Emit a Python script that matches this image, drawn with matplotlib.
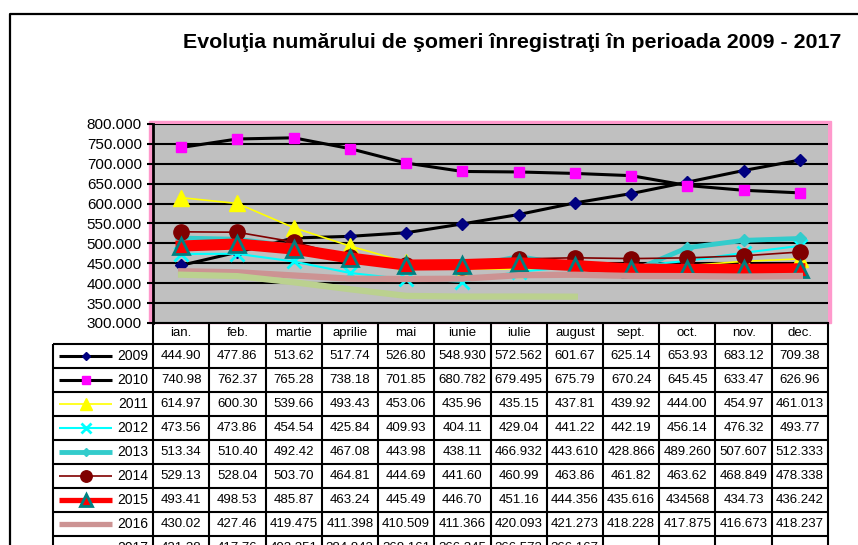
import numpy as np
import matplotlib.pyplot as plt
from matplotlib.lines import Line2D
from matplotlib.patches import Rectangle

plt.rcParams['font.family'] = ['Liberation Sans', 'DejaVu Sans']

titlu = 'Evoluţia numărului de şomeri înregistraţi în perioada 2009 - 2017'
luni = ['ian.', 'feb.', 'martie', 'aprilie', 'mai', 'iunie', 'iulie',
        'august', 'sept.', 'oct.', 'nov.', 'dec.']
ani = ['2009', '2010', '2011', '2012', '2013', '2014', '2015', '2016', '2017']

# valori asa cum apar in tabel (mii persoane)
s2009 = ['444.90', '477.86', '513.62', '517.74', '526.80', '548.930', '572.562', '601.67', '625.14', '653.93', '683.12', '709.38']
s2010 = ['740.98', '762.37', '765.28', '738.18', '701.85', '680.782', '679.495', '675.79', '670.24', '645.45', '633.47', '626.96']
s2011 = ['614.97', '600.30', '539.66', '493.43', '453.06', '435.96', '435.15', '437.81', '439.92', '444.00', '454.97', '461.013']
s2012 = ['473.56', '473.86', '454.54', '425.84', '409.93', '404.11', '429.04', '441.22', '442.19', '456.14', '476.32', '493.77']
s2013 = ['513.34', '510.40', '492.42', '467.08', '443.98', '438.11', '466.932', '443.610', '428.866', '489.260', '507.607', '512.333']
s2014 = ['529.13', '528.04', '503.70', '464.81', '444.69', '441.60', '460.99', '463.86', '461.82', '463.62', '468.849', '478.338']
s2015 = ['493.41', '498.53', '485.87', '463.24', '445.49', '446.70', '451.16', '444.356', '435.616', '434568', '434.73', '436.242']
s2016 = ['430.02', '427.46', '419.475', '411.398', '410.509', '411.366', '420.093', '421.273', '418.228', '417.875', '416.673', '418.237']
s2017 = ['421.38', '417.76', '402.351', '384.843', '368.161', '366.345', '366.573', '366.167']

serii = [s2009, s2010, s2011, s2012, s2013, s2014, s2015, s2016, s2017]

stiluri = [
    dict(color='black', lw=2.2, marker='D', ms=6, mfc='#000080', mec='#000080'),
    dict(color='black', lw=2.2, marker='s', ms=7.5, mfc='#FF00FF', mec='#FF00FF'),
    dict(color='#FFFF00', lw=1.2, marker='^', ms=12, mfc='#FFFF00', mec='#FFFF00'),
    dict(color='#00FFFF', lw=1.5, marker='x', ms=10, mew=2, mec='#00FFFF'),
    dict(color='#33CCCC', lw=3.5, marker='D', ms=6, mfc='#33CCCC', mec='#33CCCC'),
    dict(color='#800000', lw=1.2, marker='o', ms=11, mfc='#800000', mec='#800000'),
    dict(color='#FF0000', lw=8, marker='^', ms=11, mfc='#FF0000', mec='#008080', mew=2),
    dict(color='#CC9393', lw=4.5),
    dict(color='#BBD18F', lw=4.5),
]


def valoare(s):
    # in tabel o valoare apare fara punct (434568)
    return float(s) if '.' in s else float(s) / 1000


fig = plt.figure(figsize=(8.58, 5.45), dpi=100)

# chenarul graficului
fig.add_artist(Line2D([10/858, 10/858, 1], [0, 1-14/545, 1-14/545],
                      transform=fig.transFigure, color='black', lw=1.6))
fig.text(512/858, 1-42/545, titlu, ha='center', va='center',
         fontsize=15.4, fontweight='bold')

# rama roz a zonei de desenare
fig.add_artist(Rectangle((149/858, 1-323/545), 682/858, 202/545,
                         transform=fig.transFigure, color='#FF99CC', zorder=-1))

ax = fig.add_axes([153/858, 1-323/545, 675/858, 199/545])
ax.set_facecolor('#C0C0C0')
x = np.arange(len(luni))
for s, st in zip(serii, stiluri):
    v = [valoare(t) for t in s]
    ax.plot(x[:len(v)], v, **st)

ax.set_xlim(-0.5, 11.5)
ax.set_ylim(300, 800)
ax.set_yticks(np.arange(300, 801, 50))
ax.yaxis.set_major_formatter(lambda v, p: f'{v:.3f}')
ax.grid(axis='y', color='black', lw=1.5)
ax.set_axisbelow(True)
ax.set_xticks([])
ax.tick_params(axis='y', direction='out', length=4, width=1.5, labelsize=11, pad=4)
for sp in ['top', 'right']:
    ax.spines[sp].set_visible(False)
ax.spines['left'].set_linewidth(2)
ax.spines['bottom'].set_linewidth(1.5)

# tabelul de date
x0 = 11.5 - 775/56.25
tb = fig.add_axes([53/858, 0, 775/858, 222/545])
tb.set_xlim(x0, 11.5)
tb.set_ylim(8.375, -0.875)
tb.axis('off')

tb.hlines(np.arange(0, 10), x0, 11.5, color='black', lw=1.5, clip_on=False)
tb.vlines(x0, 0, 9.5, color='black', lw=1.5, clip_on=False)
tb.vlines(np.arange(-0.5, 12), -0.875, 9.5, color='black', lw=1.5, clip_on=False)

for j, luna in enumerate(luni):
    tb.text(j, -0.44, luna, ha='center', va='center', fontsize=9.5)

for i, (an, s, st) in enumerate(zip(ani, serii, stiluri)):
    yc = i + 0.5
    tb.plot([x0 + 0.1, x0 + 1.05], [yc, yc], color=st['color'],
            lw=min(st['lw'], 3.8), solid_capstyle='butt', clip_on=False)
    if 'marker' in st:
        tb.plot([x0 + 0.58], [yc], ls='none', marker=st['marker'],
                ms=st['ms'] * 0.75, mfc=st.get('mfc', 'none'),
                mec=st.get('mec'), mew=st.get('mew', 1), clip_on=False)
    tb.text(-0.58, yc, an, ha='right', va='center', fontsize=10)
    for j, t in enumerate(s):
        tb.text(j, yc, t, ha='center', va='center', fontsize=9.5)

fig.savefig('out.png', dpi=100)
